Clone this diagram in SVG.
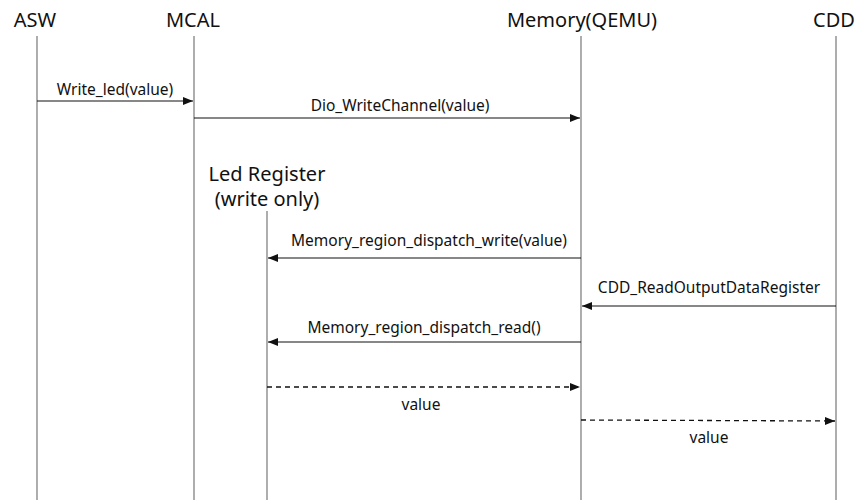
<svg xmlns="http://www.w3.org/2000/svg" width="857" height="500" viewBox="0 0 857 500">
  <style>
    .head { font-family: "Noto Sans", "Liberation Sans", sans-serif; font-size: 20px; fill: #111; text-anchor: middle; }
    .lbl { font-family: "Noto Sans", "Liberation Sans", sans-serif; font-size: 15.5px; fill: #111; text-anchor: middle; }
    .life { stroke: #777; stroke-width: 1.2; fill: none; }
    .msg { stroke: #111; stroke-width: 1.1; fill: none; marker-end: url(#arrow); }
    .ret { stroke: #111; stroke-width: 1.3; fill: none; stroke-dasharray: 5 4; marker-end: url(#arrow); }
  </style>
  <defs>
    <marker id="arrow" viewBox="0 0 10 10" refX="10" refY="5" markerWidth="10" markerHeight="10" markerUnits="userSpaceOnUse" orient="auto">
      <path d="M0,1 L10,5 L0,9 z" fill="#111"/>
    </marker>
  </defs>
  <rect width="857" height="500" fill="#fff"/>

  <g id="asw">
    <text class="head" x="35" y="27">ASW</text>
    <line class="life" x1="37" y1="36" x2="37" y2="500"/>
  </g>
  <g id="mcal">
    <text class="head" x="193" y="27">MCAL</text>
    <line class="life" x1="194" y1="36" x2="194" y2="500"/>
  </g>
  <g id="memory">
    <text class="head" x="582" y="27">Memory(QEMU)</text>
    <line class="life" x1="581" y1="36" x2="581" y2="500"/>
  </g>
  <g id="cdd">
    <text class="head" x="834" y="27">CDD</text>
    <line class="life" x1="836" y1="36" x2="836" y2="500"/>
  </g>
  <g id="led-register">
    <text class="head" x="267" y="181">Led Register</text>
    <text class="head" x="267" y="206">(write only)</text>
    <line class="life" x1="267" y1="211" x2="267" y2="500"/>
  </g>

  <g id="connectors">
    <line class="msg" x1="37" y1="101" x2="193" y2="101"/>
    <text class="lbl" x="115" y="95">Write_led(value)</text>

    <line class="msg" x1="194" y1="118" x2="580" y2="118"/>
    <text class="lbl" x="400" y="111">Dio_WriteChannel(value)</text>

    <line class="msg" x1="581" y1="258" x2="268" y2="258"/>
    <text class="lbl" x="429" y="246">Memory_region_dispatch_write(value)</text>

    <line class="msg" x1="836" y1="306" x2="582" y2="306"/>
    <text class="lbl" x="709" y="293">CDD_ReadOutputDataRegister</text>

    <line class="msg" x1="581" y1="342" x2="268" y2="342"/>
    <text class="lbl" x="424" y="333">Memory_region_dispatch_read()</text>

    <line class="ret" x1="267" y1="387" x2="580" y2="387"/>
    <text class="lbl" x="421" y="410">value</text>

    <line class="ret" x1="581" y1="420" x2="835" y2="421"/>
    <text class="lbl" x="709" y="443">value</text>
  </g>
</svg>
